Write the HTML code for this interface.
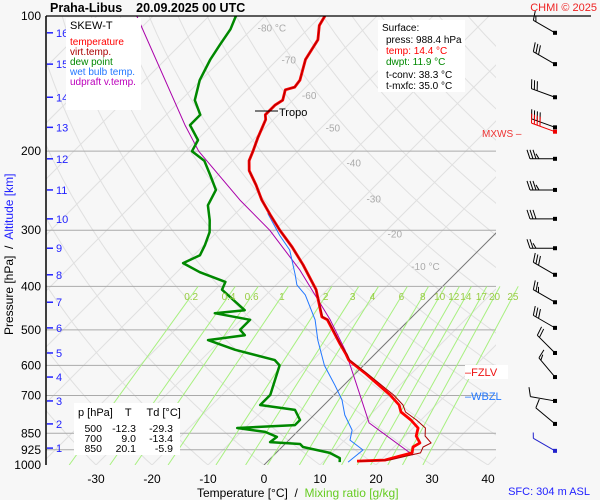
<!DOCTYPE html>
<html><head><meta charset="utf-8"><style>
html,body{margin:0;padding:0;background:#f7f7f7;}
svg{display:block;font-family:"Liberation Sans",sans-serif;}
text{white-space:pre;}
</style></head><body>
<svg id="chart" width="600" height="500" viewBox="0 0 600 500" xmlns="http://www.w3.org/2000/svg" xml:space="preserve">
<rect x="0" y="0" width="600" height="500" fill="#f7f7f7"/>
<defs><clipPath id="plotclip"><rect x="46" y="16" width="450" height="449"/></clipPath>
<clipPath id="mixclip"><rect x="46" y="16" width="480" height="449"/></clipPath></defs>
<g id="grid" clip-path="url(#plotclip)"></g>
<g id="mixgrid" clip-path="url(#mixclip)"></g>
<g id="series" clip-path="url(#plotclip)"></g>
<g id="axes"></g>
<g id="barbs"></g>
<text x="50" y="12" font-size="12.5" font-weight="bold">Praha-Libus    20.09.2025 00 UTC</text>
<text x="597" y="11" font-size="11" fill="#e22" text-anchor="end">CHMI © 2025</text>
<rect x="66" y="18" width="75" height="92" fill="#fff"/>
<g font-size="10">
<text x="70" y="29" font-size="11" fill="#000">SKEW-T</text>
<text x="70" y="45" fill="#f00">temperature</text>
<text x="70" y="55" fill="#a00">virt.temp.</text>
<text x="70" y="65" fill="#080">dew point</text>
<text x="70" y="75" fill="#27f">wet bulb temp.</text>
<text x="70" y="85" fill="#b0b">udpraft v.temp.</text>
</g>
<rect x="378" y="20" width="87" height="72" fill="#fff"/>
<g font-size="10">
<text x="382" y="31">Surface:</text>
<text x="386" y="43">press: 988.4 hPa</text>
<text x="386" y="54" fill="#f00">temp: 14.4 °C</text>
<text x="386" y="65" fill="#080">dwpt: 11.9 °C</text>
<text x="386" y="78">t-conv: 38.3 °C</text>
<text x="386" y="89">t-mxfc: 35.0 °C</text>
</g>
<rect x="74" y="403" width="106" height="52" fill="#fff"/>
<g font-size="11">
<text x="78" y="416">p [hPa]    T     Td [°C]</text>
<g font-size="10.5" text-anchor="end">
<text x="102" y="432">500</text><text x="136" y="432">-12.3</text><text x="173" y="432">-29.3</text>
<text x="102" y="442">700</text><text x="136" y="442">9.0</text><text x="173" y="442">-13.4</text>
<text x="102" y="452">850</text><text x="136" y="452">20.1</text><text x="173" y="452">-5.9</text>
</g></g>
<g transform="translate(13,335) rotate(-90)" font-size="12">
<text x="0" y="0">Pressure [hPa]  /  <tspan fill="#22f">Altitude [km]</tspan></text>
</g>
<text x="197" y="497" font-size="12">Temperature [°C]  /  <tspan fill="#6c2">Mixing ratio [g/kg]</tspan></text>
<text x="590" y="495" font-size="11" fill="#22f" text-anchor="end">SFC: 304 m ASL</text>
<text x="482" y="137" font-size="10" fill="#e33">MXWS –</text>
<rect x="465" y="365" width="43" height="14" fill="#fff"/>
<text x="465" y="376" font-size="11" fill="#e11">–FZLV</text>
<text x="465" y="400" font-size="11" fill="#27f">–WBZL</text>
<line x1="255" y1="111" x2="278" y2="111" stroke="#000"/>
<text x="279" y="116" font-size="11">Tropo</text>
<script>
const presTicks=[100,200,300,400,500,600,700,850,925,1000];
const gridPres=[200,300,400,500,600,700,850,925];
const tempTicks=[-30,-20,-10,0,10,20,30,40];
const isoLabels=[-80,-70,-60,-50,-40,-30,-20,-10];
const isoLabelPres=[106,125,150,177,212,255,305,360];
const altKm=[16,15,14,13,12,11,10,9,8,7,6,5,4,3,2,1];
const altPres=[109,128,151.7,177,208,244,283,329,377,434,495,563,637,720,810,917];
const mixRatios=[0.2,0.4,0.6,1,2,3,4,6,8,10,12,14,17,20,25];
const mixLabels=["0.2","0.4","0.6","1","2","3","4","6","8","10","12","14","17","20","25"];
const tPres=[980,975,955,940,912,893,862,827,794,762,735,698,624,584,566,538,475,468,407,358,327,300,277,257,238,221,210,200,187,170,166,162,158,154,146,144,139,125,113,105,100];
const tVals=[15.9,20.7,22.7,24.3,23.4,23.9,22.0,20.9,18.2,15.0,13.4,10.0,1.6,-3.6,-5.2,-8.0,-14.6,-16.1,-22.0,-28.8,-33.9,-39.1,-43.6,-47.7,-51.4,-55.2,-57.0,-58.0,-59.5,-61.4,-62.3,-62.3,-62.3,-61.8,-63.2,-62.0,-62.3,-65.0,-66.3,-68.6,-69.3];
const tvAdd=[0.5,0.8,1.2,1.5,1.8,2.0,1.6,1.3,1.0,0.8,0.7,0.6,0.3,0.2,0.2,0.1,0.1,0.1,0,0,0,0,0,0,0,0,0,0,0,0,0,0,0,0,0,0,0,0,0,0,0];
const tdPres=[100,107,116,125,139,154,166,175,189,200,210,226,244,264,285,303,324,341,355,372,391,407,452,459,475,500,514,527,554,584,600,698,735,754,794,815,827,844,866,889,898,912,940,965,985];
const tdVals=[-85.2,-83.8,-82.9,-82,-80.2,-77.5,-73.9,-73.9,-69.8,-68.9,-65,-61.4,-57.7,-56.4,-53.4,-51.3,-49.8,-48.9,-50.5,-45.9,-39.6,-38.8,-31.1,-35.9,-28.4,-28.4,-26.6,-32.3,-25.7,-16.8,-15,-11.4,-11.4,-4.3,-1.6,-1.6,-11.4,-5.7,-2.7,-3.0,2.7,3.75,9.6,12.3,13.0];
const wbPres=[275,308,332,377,397,418,475,527,600,664,716,774,836,880,926,985];
const wbVals=[-44.3,-38.2,-33.8,-28.4,-26.3,-23,-16.8,-12.7,-7,-1.6,2.3,5.5,9.5,10.9,15,14.5];
const upPres=[950,806,647,554,475,368,300,257,200,175,100];
const upVals=[24.8,11.25,1.1,-6.1,-14.1,-28.4,-40.9,-51.6,-67.7,-74.8,-102.9];
const windPres=[109,128,151.7,177,181,208,244,283,329,377,434,495,563,637,720,810,930];
const windDir=[300,300,290,290,290,270,270,270,270,300,300,300,315,320,280,310,300];
const windKt=[15,30,30,40,40,35,35,30,25,30,25,30,20,15,10,10,5];
const windColor=["#000","#000","#000","#000","#e00","#000","#000","#000","#000","#000","#000","#000","#000","#000","#000","#000","#22c"];

const NS="http://www.w3.org/2000/svg";
const Y0=465,PX=449,X0=264,KX=5.6;
function yP(p){return Y0-PX*Math.log10(1000/p);}
function xT(t,p){return X0+KX*t+(Y0-yP(p));}
function mk(tag,attrs,parent){const e=document.createElementNS(NS,tag);for(const k in attrs)e.setAttribute(k,attrs[k]);parent.appendChild(e);return e;}
const grid=document.getElementById('grid'),mixgrid=document.getElementById('mixgrid'),series=document.getElementById('series'),axes=document.getElementById('axes'),barbs=document.getElementById('barbs');

for(let th=-40;th<=200;th+=10){let d="";for(let p=1050;p>=95;p-=10){const T=(th+273.15)*Math.pow(p/1000,0.286)-273.15;d+=(d?"L":"M")+xT(T,p).toFixed(1)+","+yP(p).toFixed(1);}
const e=mk('path',{d:d,fill:'none',stroke:'#e0e0e0','stroke-width':1},grid);

}
for(let t=-160;t<=50;t+=10){const pTop=t===0?300:100;const e=mk('line',{x1:xT(t,1000),y1:yP(1000),x2:xT(t,pTop),y2:yP(pTop),stroke:t===0?'#777':'#e0e0e0','stroke-width':1},grid);

}
function tdFromW(w,p){const e=w*p/(622+w);const l=Math.log(e/6.112);return 243.5*l/(17.67-l);}
mixRatios.forEach((w,i)=>{const e=mk('line',{x1:xT(tdFromW(w,1000),1000),y1:yP(1000),x2:xT(tdFromW(w,400),400),y2:yP(400),stroke:'#a8f080','stroke-width':1},mixgrid);


const t=mk('text',{x:xT(tdFromW(w,420),420),y:yP(420)+4,'font-size':10,fill:'#9c4','text-anchor':'middle'},axes);t.textContent=mixLabels[i];

});
gridPres.forEach(p=>{const e=mk('line',{x1:46,y1:yP(p),x2:496,y2:yP(p),stroke:'#aaa','stroke-width':1},grid);

});
isoLabels.forEach((t,i)=>{const p=isoLabelPres[i];const e=mk('text',{x:xT(t,p)+4,y:yP(p)+4,'font-size':10,fill:'#aaa'},grid);e.textContent=t+((t===-80||t===-10)?" °C":"");

});
function line(P,T,color,w,name){let d="";P.forEach((p,i)=>{d+=(i?"L":"M")+xT(T[i],p).toFixed(1)+","+yP(p).toFixed(1);});const e=mk('path',{d:d,fill:'none',stroke:color,'stroke-width':w,'stroke-linejoin':'round'},series);

}
line(upPres,upVals,'#a0a',1,'updraft-line');
line(wbPres,wbVals,'#27f',1,'wet-bulb-line');
line(tdPres,tdVals,'#080',2.5,'dew-point-line');
line(tPres,tVals,'#f00',2.8,'temperature-line');
line(tPres,tVals.map((v,i)=>v+tvAdd[i]),'#a00',1,'virt-temp-line');
mk('line',{x1:46,y1:16,x2:46,y2:465,stroke:'#000','stroke-width':1.5},axes);
mk('line',{x1:46,y1:16,x2:591,y2:16,stroke:'#000','stroke-width':1.2},axes);
presTicks.forEach(p=>{const e=mk('text',{x:41,y:yP(p)+4,'font-size':12,'text-anchor':'end'},axes);e.textContent=p;

});
tempTicks.forEach(t=>{const e=mk('text',{x:X0+KX*t,y:483,'font-size':12,'text-anchor':'middle'},axes);e.textContent=t;

});
altKm.forEach((k,i)=>{const y=yP(altPres[i]);mk('line',{x1:47,y1:y,x2:53,y2:y,stroke:'#22f','stroke-width':1.5},axes);const e=mk('text',{x:56,y:y+4,'font-size':11,fill:'#22f'},axes);e.textContent=k;

});
windPres.forEach((p,i)=>{const y=yP(p),x=555,c=windColor[i];const a=(windDir[i])*Math.PI/180;const dx=Math.sin(a),dy=-Math.cos(a);const L=25;
const ex=x+dx*L,ey=y+dy*L;const g=mk('g',{},barbs);


mk('line',{x1:x,y1:y,x2:ex,y2:ey,stroke:c,'stroke-width':1},g);
mk('rect',{x:x-2,y:y-2,width:4,height:4,fill:c},g);
let kt=windKt[i],k=0;const px=-dy,py=dx;
while(kt>=5){const full=kt>=10;const len=full?9:5;const bx=ex-dx*k*3,by=ey-dy*k*3;
mk('line',{x1:bx,y1:by,x2:bx+(px*len+dx*3),y2:by+(py*len+dy*3),stroke:c,'stroke-width':1},g);kt-=full?10:5;k++;}
});
</script>
</svg>
</body></html>
